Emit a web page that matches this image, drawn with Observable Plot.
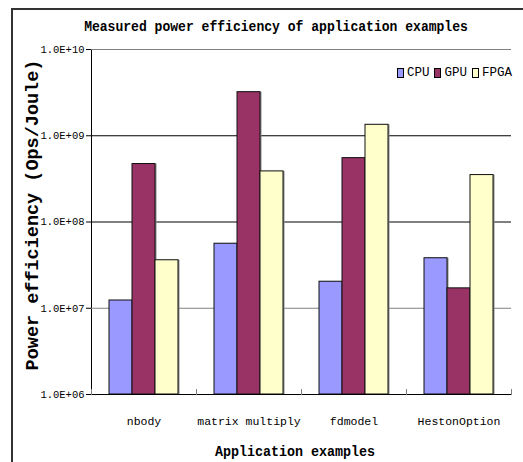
<!DOCTYPE html>
<html>
<head>
<meta charset="utf-8">
<script src="https://cdn.jsdelivr.net/npm/d3@7"></script>
<script src="https://cdn.jsdelivr.net/npm/@observablehq/plot@0.6"></script>
<style>
  body { margin: 0; background: #fff; }
  #wrap { position: relative; width: 523px; height: 462px; overflow: hidden; background: #fff; }
  #frame { position: absolute; left: 11px; top: 8px; width: 530px; height: 500px; border-left: 2px solid #333; border-top: 2px solid #333; }
  #chart { position: absolute; left: 0; top: 0; }
  .txt { position: absolute; white-space: nowrap; font-family: "Liberation Mono", "DejaVu Sans Mono", monospace; color: #000; }
  #title { left: 276px; top: 27px; font-weight: bold; font-size: 15px; transform: translate(-50%, -50%) scaleX(0.87); }
  #ytitle { left: 33px; top: 215px; font-weight: bold; font-size: 18.5px; transform: translate(-50%, -50%) rotate(-90deg); }
  #xtitle { left: 295px; top: 452px; font-weight: bold; font-size: 15px; transform: translate(-50%, -50%) scaleX(0.89); }
  #legend { position: absolute; right: 11px; top: 66px; display: flex; align-items: center; font-family: "Liberation Mono", "DejaVu Sans Mono", monospace; font-size: 12.5px; color: #000; }
  #legend .item { display: flex; align-items: center; margin-left: 5px; }
  #legend .sw { width: 5px; height: 8px; border: 1px solid #000; margin-right: 3px; }
  g[aria-label="y-axis tick label"] text, g[aria-label="y-axis tick label"] { font-size: 10.5px; }
  g[aria-label="fx-axis tick label"] text, g[aria-label="fx-axis tick label"] { font-size: 11.5px; }
</style>
</head>
<body>
<div id="wrap">
  <div id="frame"></div>
  <div id="chart"></div>
  <div id="title" class="txt"></div>
  <div id="ytitle" class="txt"></div>
  <div id="xtitle" class="txt"></div>
  <div id="legend"></div>
</div>
<script>
const titleText = "Measured power efficiency of application examples";
const yTitle = "Power efficiency (Ops/Joule)";
const xTitle = "Application examples";
const categories = ["nbody", "matrix multiply", "fdmodel", "HestonOption"];
const series = ["CPU", "GPU", "FPGA"];
const colors = ["#9999FF", "#993366", "#FFFFCC"];
const cpu = [1.23e7, 5.6e7, 2.03e7, 3.8e7];
const gpu = [4.7e8, 3.2e9, 5.5e8, 1.7e7];
const fpga = [3.6e7, 3.86e8, 1.34e9, 3.5e8];
const yTicks = [1e6, 1e7, 1e8, 1e9, 1e10];
const yTickLabels = ["1.0E+06", "1.0E+07", "1.0E+08", "1.0E+09", "1.0E+10"];

const values = {CPU: cpu, GPU: gpu, FPGA: fpga};
const rows = [];
categories.forEach((c, i) => series.forEach(s => rows.push({app: c, proc: s, value: values[s][i]})));
const yBase = yTicks[0];

document.getElementById("title").textContent = titleText;
document.getElementById("ytitle").textContent = yTitle;
document.getElementById("xtitle").textContent = xTitle;

const legend = document.getElementById("legend");
series.forEach((s, i) => {
  const it = document.createElement("div");
  it.className = "item";
  const sw = document.createElement("div");
  sw.className = "sw";
  sw.style.background = colors[i];
  const t = document.createElement("span");
  t.textContent = s;
  it.appendChild(sw); it.appendChild(t);
  legend.appendChild(it);
});

const chart = Plot.plot({
  width: 523,
  height: 462,
  marginTop: 49,
  marginBottom: 68,
  marginLeft: 90,
  marginRight: 11,
  style: {fontFamily: "Liberation Mono, DejaVu Sans Mono, monospace", background: "transparent", color: "#000"},
  fx: {domain: categories, padding: 0, label: null, tickSize: 0, tickPadding: 22, axis: "bottom"},
  x: {domain: series, axis: null, paddingInner: 0, paddingOuter: 0.77},
  y: {type: "log", domain: [yTicks[0], yTicks[yTicks.length - 1]], ticks: yTicks,
      tickFormat: d => yTickLabels[yTicks.indexOf(d)], tickSize: 5, tickPadding: 2, label: null, line: true},
  color: {domain: series, range: colors},
  marks: [
    Plot.ruleY(yTicks.slice(1), {stroke: d => (d === 1e8 || d === 1e9) ? "#000" : "#808080", strokeWidth: 1}),
    Plot.barY(rows, {fx: "app", x: "proc", y1: d => yBase, y2: "value", fill: "#8a8a8a", dx: 1.5}),
    Plot.barY(rows, {fx: "app", x: "proc", y1: d => yBase, y2: "value", fill: "proc", stroke: "#111", strokeWidth: 1}),
    Plot.ruleY([yBase], {stroke: "#000", strokeWidth: 1}),
    Plot.frame({anchor: "left", insetTop: 340, stroke: "#808080"}),
    Plot.frame({anchor: "right", insetTop: 340, stroke: "#808080"})
  ]
});
document.getElementById("chart").appendChild(chart);
</script>
</body>
</html>
